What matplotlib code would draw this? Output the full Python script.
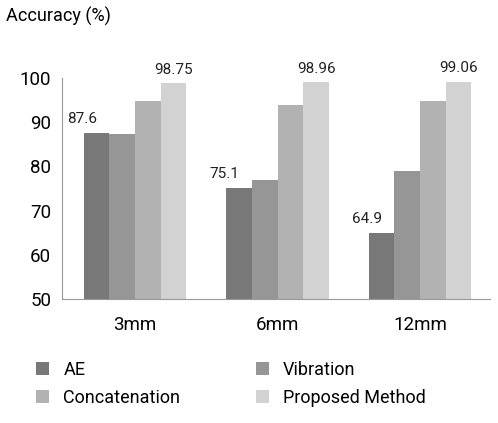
import numpy as np
import matplotlib.pyplot as plt

plt.rcParams['font.family'] = ['Roboto', 'DejaVu Sans']

categories = ["3mm", "6mm", "12mm"]
series_names = ["AE", "Vibration", "Concatenation", "Proposed Method"]
ae = [87.6, 75.1, 64.9]
vibration = [87.4, 77.0, 79.0]
concatenation = [94.7, 93.8, 94.7]
proposed = [98.75, 98.96, 99.06]
colors = ["#787878", "#969696", "#b2b2b2", "#d2d2d2"]

fig = plt.figure(figsize=(4.98, 4.23), dpi=100)
ax = fig.add_axes([0.125, 0.293, 0.859, 0.523])

x = np.arange(len(categories))
w = 0.18
all_series = [ae, vibration, concatenation, proposed]
handles = []
for i, (vals, name, c) in enumerate(zip(all_series, series_names, colors)):
    bars = ax.bar(x + (i - 1.5) * w, vals, w, color=c, label=name)
    handles.append(bars)
    if i in (0, 3):
        for b, v in zip(bars, vals):
            ax.text(b.get_x() + b.get_width() / 2 - (0.1 if i == 0 else 0), v + 1.5, f"{v:g}",
                    ha="center", va="bottom", fontsize=11, color="#222222")

ax.set_xlim(-0.51, 2.49)
ax.set_ylim(50, 100)
ax.set_yticks(range(50, 101, 10))
ax.set_xticks(x)
ax.set_xticklabels(categories)
ax.tick_params(axis="both", labelsize=13.5, length=0, pad=8)
ax.tick_params(axis="x", pad=12)
for s in ["top", "right"]:
    ax.spines[s].set_visible(False)
for s in ["left", "bottom"]:
    ax.spines[s].set_color("#999999")
fig.text(0.012, 0.985, "Accuracy (%)", fontsize=13, ha="left", va="top")

# matplotlib fills legend columns first; reorder so rows read AE, Vibration / Concatenation, Proposed
order = [0, 2, 1, 3]
fig.legend([handles[k] for k in order], [series_names[k] for k in order],
           loc="lower left", bbox_to_anchor=(0.04, 0.0), ncol=2, frameon=False,
           fontsize=13, handlelength=0.7, handleheight=0.7, columnspacing=4.2,
           handletextpad=0.8, labelspacing=0.55)

fig.savefig("out.png", dpi=100)
